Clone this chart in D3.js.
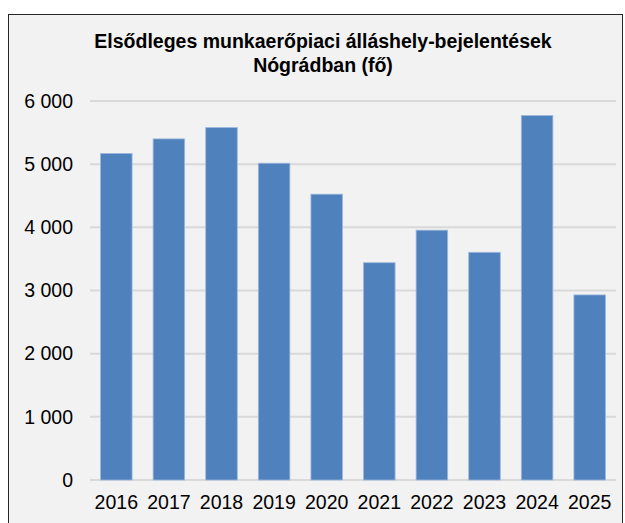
<!DOCTYPE html>
<html>
<head>
<meta charset="utf-8">
<script src="https://cdn.jsdelivr.net/npm/d3@7"></script>
<style>
  body { margin: 0; background: #fff; }
  text { font-family: "Liberation Sans", Arial, sans-serif; fill: #000; }
</style>
</head>
<body>
<div id="chart"></div>
<script>
// Chart data
const years = ["2016", "2017", "2018", "2019", "2020", "2021", "2022", "2023", "2024", "2025"];
const values = [5170, 5400, 5580, 5015, 4525, 3440, 3955, 3605, 5770, 2930];
const yTicks = [0, 1000, 2000, 3000, 4000, 5000, 6000];
const titleLines = ["Elsődleges munkaerőpiaci álláshely-bejelentések", "Nógrádban (fő)"];

const width = 625, height = 523;
const margin = { left: 90, right: 9, top: 101, bottom: 43 };

const svg = d3.select("#chart").append("svg")
    .attr("width", width)
    .attr("height", height);

// Chart area background and border
svg.append("rect")
    .attr("x", 8.5).attr("y", 14.5)
    .attr("width", 614).attr("height", 520)
    .attr("fill", "#f2f2f2")
    .attr("stroke", "#262626")
    .attr("stroke-width", 1);

// Title
svg.append("g").selectAll("text")
    .data(titleLines)
    .enter().append("text")
    .attr("x", 323)
    .attr("y", (d, i) => 48 + i * 24)
    .attr("text-anchor", "middle")
    .attr("font-size", 19.5)
    .attr("font-weight", "bold")
    .text(d => d);

const x = d3.scaleBand()
    .domain(years)
    .range([margin.left, width - margin.right])
    .paddingInner(0.4)
    .paddingOuter(0.2);

const y = d3.scaleLinear()
    .domain([0, 6000])
    .range([height - margin.bottom, margin.top]);

// Gridlines
svg.append("g").selectAll("line")
    .data(yTicks)
    .enter().append("line")
    .attr("x1", margin.left)
    .attr("x2", width - margin.right)
    .attr("y1", d => y(d))
    .attr("y2", d => y(d))
    .attr("stroke", "#d9d9d9")
    .attr("stroke-width", 2);

// Y axis labels
const fmt = d => d3.format(",")(d).replace(/,/g, " ");
const yAxis = svg.append("g")
    .attr("transform", `translate(${margin.left - 17},0)`)
    .call(d3.axisLeft(y).tickValues(yTicks).tickFormat(fmt).tickSize(0).tickPadding(0));
yAxis.select(".domain").remove();
yAxis.selectAll("text")
    .attr("font-size", 19.5)
    .attr("font-family", "'Liberation Sans', Arial, sans-serif")
    .attr("fill", "#000");

// Bars
svg.append("g").selectAll("rect")
    .data(values)
    .enter().append("rect")
    .attr("x", (d, i) => x(years[i]))
    .attr("y", d => y(d))
    .attr("width", x.bandwidth())
    .attr("height", d => y(0) - y(d))
    .attr("fill", "#4f81bd")
    .attr("stroke", "#9fb9dd")
    .attr("stroke-width", 0.8);

// X axis labels
const xAxis = svg.append("g")
    .attr("transform", `translate(0,${y(0)})`)
    .call(d3.axisBottom(x).tickSize(0).tickPadding(15));
xAxis.select(".domain").remove();
xAxis.selectAll("text")
    .attr("font-size", 19.5)
    .attr("font-family", "'Liberation Sans', Arial, sans-serif")
    .attr("fill", "#000");
</script>
</body>
</html>
